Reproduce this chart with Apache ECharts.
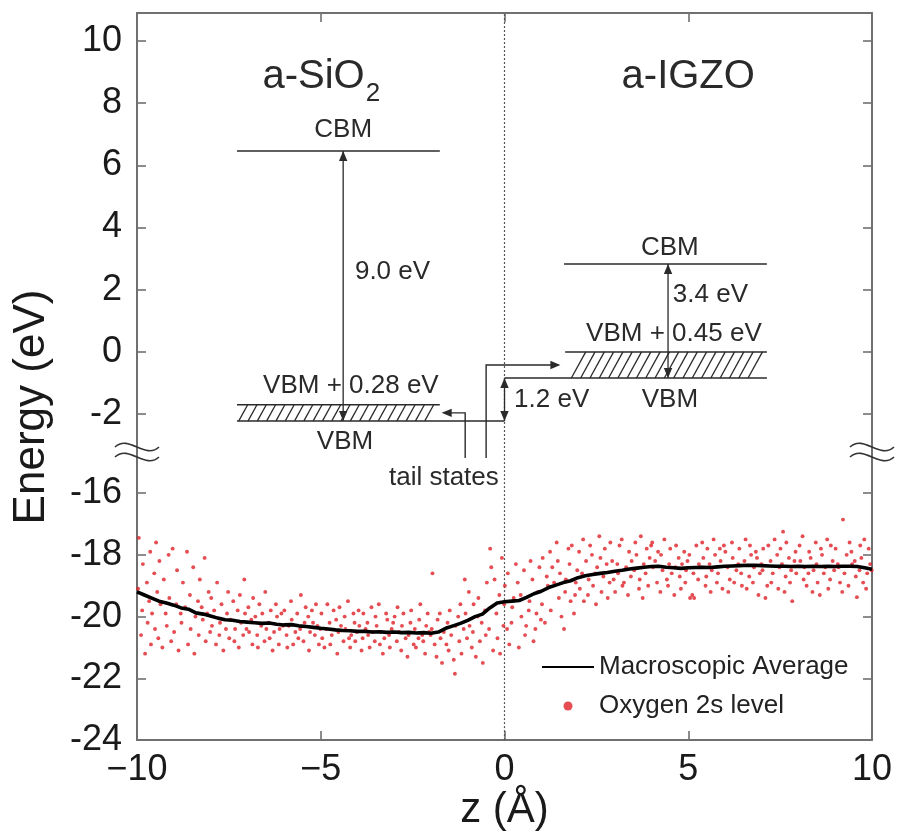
<!DOCTYPE html>
<html><head><meta charset="utf-8">
<script src="https://cdn.jsdelivr.net/npm/echarts@6/dist/echarts.min.js"></script>
<style>html,body{margin:0;padding:0;background:#fff}#c{width:901px;height:832px}</style>
</head><body><div id="c"></div>
<script>
const FONT = '"Liberation Sans", Arial, Helvetica, sans-serif';

// ---- axes ----
const xTicks = [-10, -5, 0, 5, 10];
const yTicksTop = [-2, 0, 2, 4, 6, 8, 10];
const yTicksBottom = [-24, -22, -20, -18, -16];
const topRange = [-3.22, 10.9];
const bottomRange = [-24, -14.67];

// ---- macroscopic average ----
const avgX = [-10,-9.8,-9.6,-9.4,-9.2,-9.0,-8.8,-8.6,-8.4,-8.2,-8.0,-7.8,-7.6,-7.4,-7.2,-7.0,-6.8,-6.6,-6.4,-6.2,-6.0,-5.8,-5.6,-5.4,-5.2,-5.0,-4.8,-4.6,-4.4,-4.2,-4.0,-3.8,-3.6,-3.4,-3.2,-3.0,-2.8,-2.6,-2.4,-2.2,-2.0,-1.8,-1.6,-1.4,-1.2,-1.0,-0.8,-0.6,-0.4,-0.2,0,0.2,0.4,0.6,0.8,1.0,1.2,1.4,1.6,1.8,2.0,2.2,2.4,2.6,2.8,3.0,3.2,3.4,3.6,3.8,4.0,4.2,4.4,4.6,4.8,5.0,5.2,5.4,5.6,5.8,6.0,6.2,6.4,6.6,6.8,7.0,7.2,7.4,7.6,7.8,8.0,8.2,8.4,8.6,8.8,9.0,9.2,9.4,9.6,9.8,10];
const avgY = [-19.20,-19.30,-19.40,-19.50,-19.56,-19.63,-19.72,-19.76,-19.88,-19.92,-19.98,-20.05,-20.10,-20.12,-20.16,-20.18,-20.20,-20.22,-20.21,-20.25,-20.27,-20.26,-20.30,-20.32,-20.35,-20.38,-20.40,-20.43,-20.45,-20.46,-20.48,-20.48,-20.50,-20.49,-20.51,-20.50,-20.52,-20.51,-20.53,-20.52,-20.54,-20.50,-20.38,-20.30,-20.22,-20.12,-20.00,-19.92,-19.72,-19.56,-19.52,-19.50,-19.48,-19.38,-19.26,-19.18,-19.06,-18.98,-18.90,-18.84,-18.74,-18.68,-18.64,-18.60,-18.57,-18.53,-18.50,-18.46,-18.43,-18.40,-18.38,-18.37,-18.40,-18.42,-18.44,-18.42,-18.41,-18.40,-18.41,-18.39,-18.37,-18.36,-18.35,-18.34,-18.34,-18.35,-18.36,-18.37,-18.37,-18.38,-18.37,-18.38,-18.37,-18.38,-18.37,-18.38,-18.37,-18.37,-18.38,-18.42,-18.47];

// ---- oxygen 2s level points ----
const oxygen2s = [
[-9.97,-19.1],[-9.95,-17.45],[-9.89,-20.6],[-9.86,-19.8],[-9.84,-18.3],[-9.78,-21.2],[-9.73,-18.9],[-9.71,-20.2],[-9.67,-19.5],[-9.64,-17.9],[-9.62,-20.9],[-9.59,-19.9],[-9.53,-18.6],[-9.51,-20.4],[-9.48,-17.6],[-9.45,-19.2],[-9.42,-20.7],[-9.39,-18.2],[-9.36,-19.6],[-9.31,-21.0],[-9.27,-18.8],[-9.22,-19.9],[-9.19,-20.3],[-9.14,-18.0],[-9.12,-19.4],[-9.07,-20.8],[-9.03,-17.8],
[-8.99,-20.5],[-8.93,-19.6],[-8.91,-18.5],[-8.87,-21.1],[-8.81,-19.9],[-8.79,-20.2],[-8.75,-18.9],[-8.69,-19.7],[-8.64,-17.9],[-8.61,-20.9],[-8.56,-19.3],[-8.54,-20.4],[-8.47,-18.4],[-8.44,-21.2],[-8.41,-20.0],[-8.34,-19.5],[-8.32,-20.6],[-8.29,-18.8],[-8.24,-19.7],[-8.21,-20.1],[-8.16,-18.1],[-8.13,-20.8],[-8.09,-19.9],[-8.05,-19.2],[-8.01,-20.5],
[-7.98,-19.4],[-7.96,-20.3],[-7.9,-19.8],[-7.85,-20.9],[-7.82,-18.9],[-7.76,-20.6],[-7.74,-20.2],[-7.7,-19.6],[-7.65,-21.1],[-7.58,-20.4],[-7.55,-19.9],[-7.52,-19.2],[-7.49,-20.7],[-7.45,-20.1],[-7.38,-19.5],[-7.35,-20.8],[-7.33,-20.4],[-7.26,-19.8],[-7.23,-21.0],[-7.2,-19.3],[-7.17,-20.2],[-7.11,-20.6],[-7.08,-18.8],[-7.06,-19.9],[-7.02,-20.4],
[-6.97,-19.7],[-6.95,-20.5],[-6.89,-20.1],[-6.86,-20.9],[-6.84,-19.4],[-6.78,-20.0],[-6.73,-20.6],[-6.71,-21.0],[-6.67,-19.6],[-6.62,-20.3],[-6.59,-19.9],[-6.53,-20.8],[-6.51,-19.2],[-6.48,-20.4],[-6.42,-20.2],[-6.39,-20.7],[-6.36,-19.8],[-6.31,-21.1],[-6.27,-20.5],[-6.22,-19.6],[-6.19,-20.0],[-6.14,-20.9],[-6.12,-20.4],[-6.07,-19.9],[-6.03,-20.3],
[-5.99,-19.8],[-5.93,-20.6],[-5.91,-21.0],[-5.87,-20.3],[-5.81,-19.5],[-5.79,-20.1],[-5.75,-20.9],[-5.69,-20.5],[-5.64,-19.9],[-5.61,-20.7],[-5.56,-20.4],[-5.54,-19.3],[-5.47,-20.8],[-5.44,-20.2],[-5.41,-19.7],[-5.34,-20.0],[-5.32,-21.1],[-5.29,-20.5],[-5.24,-19.8],[-5.21,-20.2],[-5.16,-20.6],[-5.13,-19.6],[-5.09,-20.3],[-5.05,-20.9],[-5.01,-20.4],
[-4.98,-19.9],[-4.96,-20.7],[-4.9,-21.0],[-4.85,-20.4],[-4.82,-19.6],[-4.76,-20.2],[-4.74,-20.9],[-4.7,-20.6],[-4.65,-19.8],[-4.58,-20.1],[-4.55,-21.2],[-4.52,-20.5],[-4.49,-19.7],[-4.45,-20.3],[-4.38,-20.8],[-4.35,-20.0],[-4.33,-20.4],[-4.26,-19.5],[-4.23,-20.7],[-4.2,-21.0],[-4.17,-20.6],[-4.11,-19.9],[-4.08,-20.2],[-4.06,-20.8],[-4.02,-20.5],
[-3.97,-19.8],[-3.95,-20.3],[-3.89,-21.1],[-3.86,-20.7],[-3.84,-19.9],[-3.78,-20.4],[-3.73,-20.2],[-3.71,-20.6],[-3.67,-21.0],[-3.62,-19.7],[-3.59,-20.5],[-3.53,-20.8],[-3.51,-20.0],[-3.48,-20.3],[-3.42,-19.6],[-3.39,-20.9],[-3.36,-20.5],[-3.31,-21.2],[-3.27,-20.7],[-3.22,-19.9],[-3.19,-20.1],[-3.14,-20.6],[-3.12,-21.0],[-3.07,-20.4],[-3.03,-20.2],
[-2.99,-20.0],[-2.93,-20.8],[-2.91,-19.7],[-2.87,-20.5],[-2.81,-21.1],[-2.79,-20.3],[-2.75,-19.9],[-2.69,-20.7],[-2.64,-21.3],[-2.61,-20.6],[-2.56,-20.2],[-2.54,-19.8],[-2.47,-20.9],[-2.44,-20.4],[-2.41,-21.0],[-2.34,-20.7],[-2.32,-20.1],[-2.29,-19.6],[-2.24,-20.6],[-2.21,-20.8],[-2.16,-21.2],[-2.13,-20.3],[-2.09,-19.9],[-2.05,-20.5],[-2.01,-20.6],
[-1.98,-20.4],[-1.96,-18.6],[-1.9,-20.9],[-1.85,-21.3],[-1.82,-20.1],[-1.76,-19.9],[-1.74,-20.7],[-1.7,-21.5],[-1.65,-20.5],[-1.58,-20.9],[-1.55,-20.2],[-1.52,-21.1],[-1.49,-19.8],[-1.45,-20.6],[-1.38,-21.4],[-1.35,-21.85],[-1.33,-20.3],[-1.26,-20.0],[-1.23,-20.8],[-1.2,-19.6],[-1.17,-21.2],[-1.11,-20.4],[-1.08,-18.8],[-1.06,-19.9],[-1.02,-20.7],
[-0.97,-19.2],[-0.95,-20.3],[-0.89,-21.0],[-0.86,-20.5],[-0.84,-19.6],[-0.78,-21.3],[-0.73,-20.0],[-0.71,-19.4],[-0.67,-20.8],[-0.62,-20.2],[-0.59,-21.5],[-0.53,-19.8],[-0.51,-20.6],[-0.48,-18.9],[-0.42,-20.4],[-0.39,-17.8],[-0.36,-18.4],[-0.31,-21.1],[-0.27,-18.8],[-0.22,-19.9],[-0.19,-20.7],[-0.14,-19.3],[-0.12,-21.2],[-0.07,-18.1],[-0.03,-20.3],[-0.01,-19.6],
[0.01,-19.0],[0.07,-20.4],[0.09,-18.6],[0.13,-20.9],[0.19,-20.2],[0.21,-19.7],[0.25,-19.4],[0.31,-18.3],[0.36,-18.9],[0.39,-21.0],[0.44,-19.3],[0.46,-20.0],[0.53,-18.5],[0.56,-20.6],[0.59,-20.3],[0.66,-19.8],[0.68,-19.5],[0.71,-18.2],[0.76,-18.8],[0.79,-20.8],[0.84,-20.4],[0.87,-19.9],[0.91,-19.2],[0.95,-18.4],[0.99,-20.1],
[1.02,-19.6],[1.04,-18.1],[1.1,-20.2],[1.15,-18.7],[1.18,-19.0],[1.24,-17.9],[1.26,-19.8],[1.3,-18.4],[1.35,-18.9],[1.42,-17.6],[1.45,-18.2],[1.48,-19.4],[1.51,-18.6],[1.55,-20.0],[1.62,-20.4],[1.65,-19.2],[1.67,-18.8],[1.74,-17.8],[1.77,-18.3],[1.8,-19.5],[1.83,-17.7],[1.89,-19.9],[1.92,-19.3],[1.94,-18.9],[1.98,-18.5],
[2.03,-17.9],[2.05,-19.1],[2.11,-18.6],[2.14,-17.5],[2.16,-19.5],[2.22,-18.2],[2.27,-19.3],[2.29,-18.8],[2.33,-17.7],[2.38,-18.0],[2.41,-19.0],[2.47,-18.6],[2.49,-19.6],[2.52,-18.4],[2.58,-17.4],[2.61,-18.1],[2.64,-19.2],[2.69,-18.7],[2.73,-17.8],[2.78,-18.3],[2.81,-19.4],[2.86,-18.9],[2.88,-17.6],[2.93,-18.2],[2.97,-18.8],
[3.01,-19.2],[3.07,-18.3],[3.09,-18.6],[3.13,-17.7],[3.19,-17.5],[3.21,-19.0],[3.25,-18.9],[3.31,-18.4],[3.36,-19.3],[3.39,-17.9],[3.44,-18.7],[3.46,-18.2],[3.53,-18.5],[3.56,-17.6],[3.59,-18.0],[3.66,-19.1],[3.68,-18.8],[3.71,-17.4],[3.76,-19.4],[3.79,-18.3],[3.84,-18.6],[3.87,-17.8],[3.91,-19.0],[3.95,-18.1],[3.99,-17.7],
[4.02,-17.6],[4.04,-18.4],[4.1,-18.2],[4.15,-18.9],[4.18,-17.9],[4.24,-19.2],[4.26,-18.0],[4.3,-18.5],[4.35,-17.5],[4.42,-18.8],[4.45,-19.0],[4.48,-18.3],[4.51,-17.8],[4.55,-18.6],[4.62,-19.3],[4.65,-18.4],[4.67,-17.7],[4.74,-18.1],[4.77,-18.7],[4.8,-19.1],[4.83,-18.3],[4.89,-17.9],[4.92,-18.9],[4.94,-18.5],[4.98,-18.2],
[5.03,-18.0],[5.05,-19.4],[5.11,-19.3],[5.14,-18.6],[5.16,-19.4],[5.22,-17.7],[5.27,-18.8],[5.29,-18.3],[5.33,-18.4],[5.38,-17.6],[5.41,-18.1],[5.47,-19.0],[5.49,-18.7],[5.52,-17.8],[5.58,-18.3],[5.61,-19.2],[5.64,-18.5],[5.69,-17.5],[5.73,-18.0],[5.78,-18.9],[5.81,-18.6],[5.86,-17.8],[5.88,-18.2],[5.93,-19.1],[5.97,-17.7],
[6.01,-17.9],[6.07,-18.4],[6.09,-19.2],[6.13,-18.8],[6.19,-17.6],[6.21,-18.1],[6.25,-18.9],[6.31,-18.5],[6.36,-18.3],[6.39,-17.8],[6.44,-18.6],[6.46,-19.0],[6.53,-18.2],[6.56,-17.5],[6.59,-19.1],[6.66,-18.7],[6.68,-17.7],[6.71,-18.0],[6.76,-18.9],[6.79,-18.4],[6.84,-17.9],[6.87,-18.1],[6.91,-19.3],[6.95,-18.6],[6.99,-18.3],
[7.02,-18.5],[7.04,-17.8],[7.1,-19.4],[7.15,-19.0],[7.18,-17.7],[7.24,-18.2],[7.26,-18.9],[7.3,-18.6],[7.35,-17.5],[7.42,-18.0],[7.45,-19.1],[7.48,-18.4],[7.51,-17.8],[7.55,-18.3],[7.58,-17.25],[7.62,-19.2],[7.65,-18.7],[7.67,-17.6],[7.74,-18.1],[7.77,-18.9],[7.8,-18.5],[7.83,-19.5],[7.89,-18.2],[7.92,-17.9],[7.94,-18.6],
[8.03,-17.7],[8.05,-18.2],[8.11,-17.4],[8.14,-18.8],[8.16,-18.4],[8.22,-19.0],[8.27,-18.6],[8.29,-17.9],[8.33,-18.1],[8.38,-19.2],[8.41,-18.5],[8.47,-17.6],[8.49,-18.3],[8.52,-18.9],[8.58,-19.3],[8.61,-17.8],[8.64,-18.0],[8.69,-18.6],[8.73,-18.4],[8.78,-17.5],[8.81,-19.1],[8.86,-18.8],[8.88,-17.7],[8.93,-18.2],[8.97,-18.5],
[9.01,-17.8],[9.07,-18.3],[9.09,-18.4],[9.13,-18.9],[9.19,-19.2],[9.21,-16.86],[9.25,-18.6],[9.31,-18.0],[9.36,-19.0],[9.39,-17.6],[9.44,-17.9],[9.46,-18.3],[9.53,-18.2],[9.56,-18.7],[9.59,-19.37],[9.66,-18.5],[9.68,-17.7],[9.71,-18.1],[9.76,-18.9],[9.79,-17.5],[9.84,-19.1],[9.87,-18.6],[9.91,-17.8],[9.95,-18.3],[9.99,-18.5]
];

// ---- band diagram (eV, z in Å) ----
const sio2Span = [-7.28, -1.76];
const sio2CBM = 6.46;
const sio2TailTop = -1.70;
const sio2VBM = -2.22;
const sio2GapX = -4.39;
const igzoSpan = [1.62, 7.14];
const igzoCBM = 2.83;
const igzoTailTop = 0.0;
const igzoVBM = -0.84;
const igzoGapX = 4.45;
const tailLegX = [-1.07, -0.50];
const tailLegBottom = -3.41;

const bandLabels = [
  {t: 'CBM', x: -4.39, y: 7.14, a: 'center'},
  {t: '9.0 eV', x: -4.07, y: 2.57, a: 'left'},
  {t: 'VBM + 0.28 eV', x: -4.18, y: -1.09, a: 'center'},
  {t: 'VBM', x: -4.34, y: -2.89, a: 'center'},
  {t: 'tail states', x: -1.65, y: -4.05, a: 'center'},
  {t: '1.2 eV', x: 0.26, y: -1.54, a: 'left'},
  {t: 'CBM', x: 4.50, y: 3.34, a: 'center'},
  {t: '3.4 eV', x: 4.58, y: 1.83, a: 'left'},
  {t: 'VBM + 0.45 eV', x: 4.61, y: 0.58, a: 'center'},
  {t: 'VBM', x: 4.50, y: -1.54, a: 'center'}
];
const regionTitles = [
  {main: 'a-SiO', sub: '2', x: -5, y: 8.85},
  {main: 'a-IGZO', sub: '', x: 5, y: 8.85}
];

const INK = '#2a2a2a';
const AXC = '#707070';
const measureCtx = document.createElement('canvas').getContext('2d');
function textWidth(s, size) { measureCtx.font = size + 'px ' + FONT; return measureCtx.measureText(s).width; }

function renderBands(params, api) {
  const P = (x, y) => api.coord([x, y]);
  const ch = [];
  const seg = (a, b, w) => ch.push({type: 'line', shape: {x1: a[0], y1: a[1], x2: b[0], y2: b[1]}, style: {stroke: INK, lineWidth: w || 1.5}});
  const head = (p, dir) => {
    const L = 10, W = 4.2; let pts;
    if (dir === 'up') pts = [[p[0], p[1]], [p[0] - W, p[1] + L], [p[0] + W, p[1] + L]];
    else if (dir === 'down') pts = [[p[0], p[1]], [p[0] - W, p[1] - L], [p[0] + W, p[1] - L]];
    else if (dir === 'left') pts = [[p[0], p[1]], [p[0] + L, p[1] - W], [p[0] + L, p[1] + W]];
    else pts = [[p[0], p[1]], [p[0] - L, p[1] - W], [p[0] - L, p[1] + W]];
    ch.push({type: 'polygon', shape: {points: pts}, style: {fill: INK}});
  };
  const hatch = (xa, xb, yt, yb) => {
    const a = P(xa, yb), b = P(xb, yt);
    const h = a[1] - b[1], sl = h * 0.55;
    for (let x = a[0]; x + sl <= b[0] + 0.5; x += 9.3) seg([x, a[1]], [x + sl, b[1]], 1.3);
  };
  seg(P(sio2Span[0], sio2CBM), P(sio2Span[1], sio2CBM));
  seg(P(sio2Span[0], sio2TailTop), P(sio2Span[1], sio2TailTop));
  seg(P(sio2Span[0], sio2VBM), P(0, sio2VBM));
  hatch(sio2Span[0] + 0.05, sio2Span[1] - 0.12, sio2TailTop, sio2VBM);
  seg(P(igzoSpan[0], igzoCBM), P(igzoSpan[1], igzoCBM));
  seg(P(igzoSpan[0] + 0.03, igzoTailTop), P(igzoSpan[1], igzoTailTop));
  seg(P(0, igzoVBM), P(igzoSpan[1], igzoVBM));
  hatch(igzoSpan[0] + 0.2, igzoSpan[1] - 0.05, igzoTailTop, igzoVBM);
  const gapArrow = (x, yTop, yBot) => {
    const t = P(x, yTop), b = P(x, yBot);
    seg(t, b, 1.3); head(t, 'up'); head(b, 'down');
  };
  gapArrow(sio2GapX, sio2CBM, sio2VBM);
  gapArrow(igzoGapX, igzoCBM, igzoVBM);
  gapArrow(0, igzoVBM, sio2VBM);
  const midS = (sio2TailTop + sio2VBM) / 2, midI = (igzoTailTop + igzoVBM) / 2;
  const a0 = P(tailLegX[0], tailLegBottom), a1 = P(tailLegX[0], midS), a2 = P(sio2Span[1] + 0.05, midS);
  ch.push({type: 'polyline', shape: {points: [a0, a1, [a2[0] + 2, a2[1]]]}, style: {stroke: INK, lineWidth: 1.4, fill: null}});
  head(a2, 'left');
  const b0 = P(tailLegX[1], tailLegBottom), b1 = P(tailLegX[1], midI), b2 = P(igzoSpan[0] - 0.1, midI);
  ch.push({type: 'polyline', shape: {points: [b0, b1, [b2[0] - 2, b2[1]]]}, style: {stroke: INK, lineWidth: 1.4, fill: null}});
  head(b2, 'right');
  bandLabels.forEach(l => {
    const p = P(l.x, l.y);
    ch.push({type: 'text', style: {text: l.t, x: p[0], y: p[1], fill: INK, fontSize: 26, fontFamily: FONT, align: l.a, verticalAlign: 'middle'}});
  });
  regionTitles.forEach(r => {
    const p = P(r.x, r.y);
    const w1 = textWidth(r.main, 40), w2 = r.sub ? textWidth(r.sub, 26) : 0;
    const left = p[0] - (w1 + w2) / 2;
    ch.push({type: 'text', style: {text: r.main, x: left, y: p[1], fill: INK, fontSize: 40, fontFamily: FONT, align: 'left', verticalAlign: 'middle'}});
    if (r.sub) ch.push({type: 'text', style: {text: r.sub, x: left + w1 + 1, y: p[1] + 17, fill: INK, fontSize: 26, fontFamily: FONT, align: 'left', verticalAlign: 'middle'}});
  });
  return {type: 'group', children: ch};
}

const axisLine = {show: true, onZero: false, lineStyle: {color: AXC, width: 2}};
const tick = (vals) => ({show: true, inside: true, length: 9, lineStyle: {color: AXC, width: 1.6}, customValues: vals});
const ylab = (vals) => ({show: true, customValues: vals, fontSize: 36, color: '#1a1a1a', fontFamily: FONT, margin: 15});
const minus = v => v < 0 ? '\u2212' + Math.abs(v) : String(v);

const chart = echarts.init(document.getElementById('c'), null, {renderer: 'canvas'});
chart.setOption({
  animation: false,
  backgroundColor: '#fff',
  grid: [
    {left: 137, right: 29, top: 13, height: 439},
    {left: 137, right: 29, top: 452, height: 292}
  ],
  xAxis: [
    {gridIndex: 0, type: 'value', position: 'top', min: xTicks[0], max: xTicks[xTicks.length - 1], interval: 5,
     axisLine: axisLine, axisTick: {show: true, inside: true, length: 9, lineStyle: {color: AXC, width: 1.6}},
     axisLabel: {show: false}, splitLine: {show: false}},
    {gridIndex: 1, type: 'value', position: 'bottom', min: xTicks[0], max: xTicks[xTicks.length - 1], interval: 5,
     axisLine: axisLine, axisTick: {show: true, inside: true, length: 9, lineStyle: {color: AXC, width: 1.6}},
     axisLabel: {show: true, fontSize: 36, color: '#1a1a1a', fontFamily: FONT, margin: 12, formatter: minus},
     splitLine: {show: false},
     name: 'z (Å)', nameLocation: 'middle', nameGap: 44,
     nameTextStyle: {fontSize: 42, color: '#1a1a1a', fontFamily: FONT}}
  ],
  yAxis: [
    {gridIndex: 0, type: 'value', position: 'left', min: topRange[0], max: topRange[1],
     axisLine: axisLine, axisTick: tick(yTicksTop), axisLabel: ylab(yTicksTop), splitLine: {show: false}},
    {gridIndex: 0, type: 'value', position: 'right', min: topRange[0], max: topRange[1],
     axisLine: axisLine, axisTick: tick(yTicksTop), axisLabel: {show: false}, splitLine: {show: false}},
    {gridIndex: 1, type: 'value', position: 'left', min: bottomRange[0], max: bottomRange[1],
     axisLine: axisLine, axisTick: tick(yTicksBottom), axisLabel: ylab(yTicksBottom), splitLine: {show: false}},
    {gridIndex: 1, type: 'value', position: 'right', min: bottomRange[0], max: bottomRange[1],
     axisLine: axisLine, axisTick: tick(yTicksBottom), axisLabel: {show: false}, splitLine: {show: false}}
  ],
  legend: {
    data: [
      {name: 'Macroscopic Average', itemStyle: {opacity: 0, color: 'rgba(0,0,0,0)', borderWidth: 0}},
      {name: 'Oxygen 2s level', icon: 'circle'}
    ],
    orient: 'vertical', left: 536, top: 649, itemWidth: 52, itemHeight: 9, itemGap: 13,
    textStyle: {fontSize: 26, color: '#222', fontFamily: FONT}
  },
  series: [
    {name: 'interface-top', type: 'line', xAxisIndex: 0, yAxisIndex: 0, symbol: 'none', silent: true,
     data: [[0, topRange[0]], [0, topRange[1]]], lineStyle: {color: '#555', width: 1.2, type: [2, 2]}, z: 1},
    {name: 'interface-bottom', type: 'line', xAxisIndex: 1, yAxisIndex: 2, symbol: 'none', silent: true,
     data: [[0, bottomRange[0]], [0, bottomRange[1]]], lineStyle: {color: '#555', width: 1.2, type: [2, 2]}, z: 1},
    {name: 'Oxygen 2s level', type: 'scatter', xAxisIndex: 1, yAxisIndex: 2, data: oxygen2s,
     symbol: 'circle', symbolSize: 3.9, itemStyle: {color: '#df2128'}, z: 2},
    {name: 'Macroscopic Average', type: 'line', xAxisIndex: 1, yAxisIndex: 2, showSymbol: false, symbol: 'none',
     data: avgX.map((x, i) => [x, avgY[i]]), lineStyle: {color: '#000', width: 3.6}, itemStyle: {color: '#000'}, z: 3},
    {name: 'bands', type: 'custom', xAxisIndex: 0, yAxisIndex: 0, clip: false, silent: true,
     data: [[0, 0]], renderItem: renderBands, z: 4}
  ]
});

// axis break marks and y-axis title
const pl = chart.convertToPixel({xAxisIndex: 1, yAxisIndex: 2}, [xTicks[0], bottomRange[1]]);
const pr = chart.convertToPixel({xAxisIndex: 1, yAxisIndex: 2}, [xTicks[xTicks.length - 1], bottomRange[1]]);
const brk = (p) => [-5, 5].map(dy => ({type: 'bezierCurve', x: p[0], y: p[1] + dy,
  shape: {x1: -22, y1: 0, cpx1: -8, cpy1: -13, cpx2: 8, cpy2: 13, x2: 22, y2: 0},
  style: {stroke: '#333', lineWidth: 1.6, fill: null}, z: 100}));
chart.setOption({graphic: [
  ...brk(pl), ...brk(pr),
  {type: 'text', x: 32, y: 407, rotation: Math.PI / 2,
   style: {text: 'Energy (eV)', fontSize: 44, fontFamily: FONT, fill: '#1a1a1a', align: 'center', verticalAlign: 'middle'}}
]});
</script>
</body></html>
